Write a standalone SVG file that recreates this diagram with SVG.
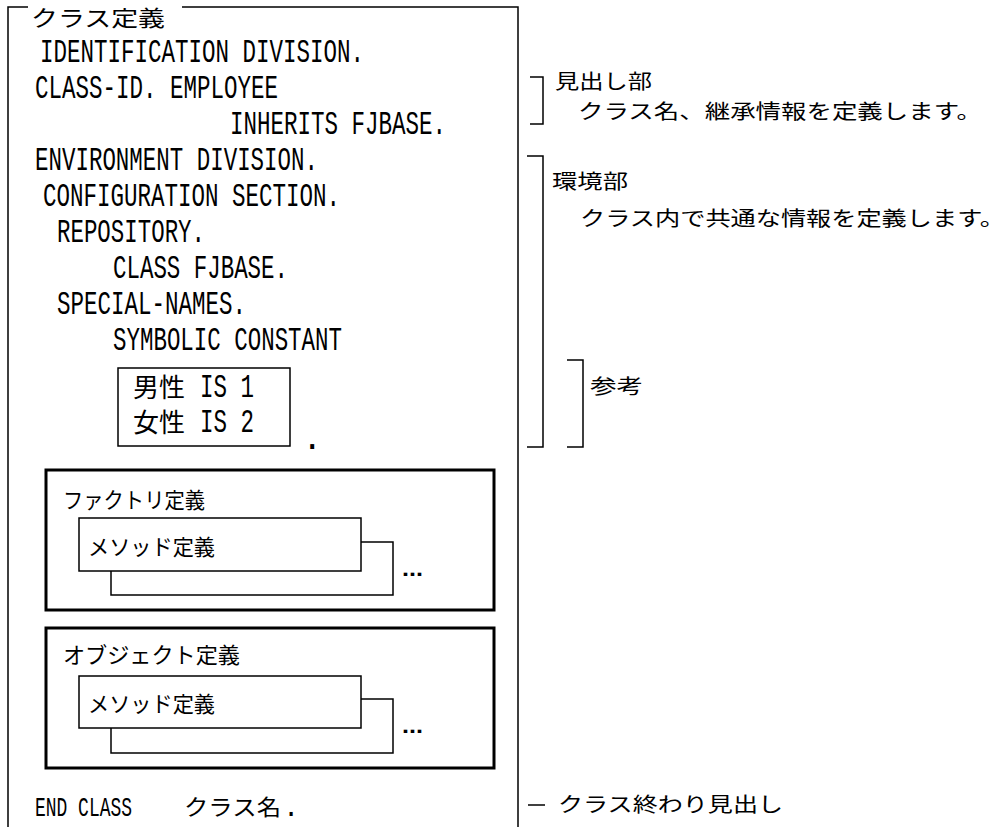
<svg xmlns="http://www.w3.org/2000/svg" width="1008" height="827" viewBox="0 0 1008 827">
<style>
  .bg{fill:#fff}
  .thin{fill:none;stroke:#000;stroke-width:1.5}
  .thick{fill:none;stroke:#000;stroke-width:3}
  .code{font-family:"Liberation Mono","Noto Sans CJK JP",monospace;font-size:34px;fill:#000}
  .jp{font-family:"Noto Sans CJK JP",sans-serif;font-size:22px;fill:#000}
  .lbl{font-family:"Noto Sans CJK JP",sans-serif;font-size:20px;fill:#000}
  .jpt{font-family:"Noto Sans CJK JP",sans-serif}
  .dots{font-family:"Liberation Sans",sans-serif;font-size:22px;font-weight:bold;fill:#000}
</style>
<rect class="bg" x="0" y="0" width="1008" height="827"/>

<g id="class-frame">
  <path class="thin" d="M28,7 H8 V827 M182,7 H518 V827"/>
  <text class="jp" x="31" y="26" textLength="134" lengthAdjust="spacingAndGlyphs">クラス定義</text>
</g>

<g id="code">
  <text class="code" x="40" y="62" textLength="324" lengthAdjust="spacingAndGlyphs">IDENTIFICATION DIVISION.</text>
  <text class="code" x="35" y="98" textLength="243" lengthAdjust="spacingAndGlyphs">CLASS-ID. EMPLOYEE</text>
  <text class="code" x="230" y="134" textLength="216" lengthAdjust="spacingAndGlyphs">INHERITS FJBASE.</text>
  <text class="code" x="35" y="170" textLength="283" lengthAdjust="spacingAndGlyphs">ENVIRONMENT DIVISION.</text>
  <text class="code" x="43" y="206" textLength="297" lengthAdjust="spacingAndGlyphs">CONFIGURATION SECTION.</text>
  <text class="code" x="57" y="242" textLength="148" lengthAdjust="spacingAndGlyphs">REPOSITORY.</text>
  <text class="code" x="113" y="278" textLength="175" lengthAdjust="spacingAndGlyphs">CLASS FJBASE.</text>
  <text class="code" x="57" y="314" textLength="189" lengthAdjust="spacingAndGlyphs">SPECIAL-NAMES.</text>
  <text class="code" x="113" y="350" textLength="229" lengthAdjust="spacingAndGlyphs">SYMBOLIC CONSTANT</text>
  <text class="code" x="302" y="449">.</text>
</g>

<g id="constants">
  <rect class="thin" x="118" y="368" width="172" height="78"/>
  <text class="code" x="133" y="397"><tspan class="jpt" style="font-size:26px">男性</tspan><tspan x="200" textLength="54" lengthAdjust="spacingAndGlyphs">IS 1</tspan></text>
  <text class="code" x="133" y="432"><tspan class="jpt" style="font-size:26px">女性</tspan><tspan x="200" textLength="54" lengthAdjust="spacingAndGlyphs">IS 2</tspan></text>
</g>

<g id="factory">
  <rect class="thick" x="46" y="470" width="448" height="140"/>
  <text class="jp" x="63" y="508" textLength="142" lengthAdjust="spacingAndGlyphs">ファクトリ定義</text>
  <path class="thin" d="M361,542 H393 V595 H111 V571"/>
  <rect class="thin" x="79" y="518" width="282" height="53"/>
  <text class="jp" x="88" y="555" textLength="127" lengthAdjust="spacingAndGlyphs">メソッド定義</text>
  <text class="dots" x="402" y="576" textLength="21" lengthAdjust="spacingAndGlyphs">...</text>
</g>

<g id="object">
  <rect class="thick" x="46" y="628" width="448" height="140"/>
  <text class="jp" x="63" y="663" textLength="177" lengthAdjust="spacingAndGlyphs">オブジェクト定義</text>
  <path class="thin" d="M361,699 H393 V753 H111 V728"/>
  <rect class="thin" x="79" y="676" width="282" height="52"/>
  <text class="jp" x="88" y="712" textLength="127" lengthAdjust="spacingAndGlyphs">メソッド定義</text>
  <text class="dots" x="402" y="733" textLength="21" lengthAdjust="spacingAndGlyphs">...</text>
</g>

<g id="end-class">
  <text class="code" x="35" y="816" style="font-size:27px"><tspan textLength="97" lengthAdjust="spacingAndGlyphs">END CLASS</tspan><tspan class="jpt" x="184" y="815" style="font-size:22px" textLength="97" lengthAdjust="spacingAndGlyphs">クラス名</tspan><tspan x="283" y="816">.</tspan></text>
</g>

<g id="connectors">
  <path class="thin" d="M530,77 H543 V124 H530"/>
  <path class="thin" d="M527,156 H543 V447 H527"/>
  <path class="thin" d="M567,360 H583 V447 H567"/>
  <path class="thin" d="M528,805 H545"/>
</g>

<g id="label-heading">
  <text class="lbl" x="555" y="89" textLength="97" lengthAdjust="spacingAndGlyphs">見出し部</text>
  <text class="lbl" x="578" y="119" textLength="404" lengthAdjust="spacingAndGlyphs">クラス名、継承情報を定義します。</text>
</g>
<g id="label-environment">
  <text class="lbl" x="552" y="189" textLength="76" lengthAdjust="spacingAndGlyphs">環境部</text>
  <text class="lbl" x="580" y="226" textLength="425" lengthAdjust="spacingAndGlyphs">クラス内で共通な情報を定義します。</text>
</g>
<g id="label-reference">
  <text class="lbl" x="590" y="394" textLength="53" lengthAdjust="spacingAndGlyphs">参考</text>
</g>
<g id="label-end">
  <text class="lbl" x="558" y="812" textLength="225" lengthAdjust="spacingAndGlyphs">クラス終わり見出し</text>
</g>
</svg>
